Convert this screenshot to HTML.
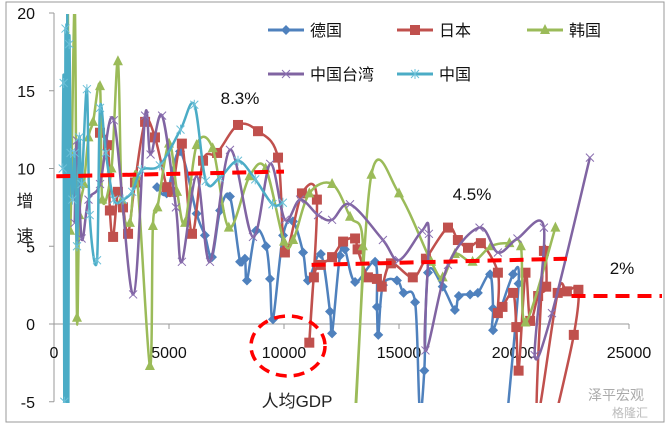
<!DOCTYPE html>
<html><head><meta charset="utf-8"><style>
html,body{margin:0;padding:0;background:#fff;width:667px;height:426px;overflow:hidden;}
svg{display:block;position:absolute;left:0;top:0;overflow:hidden;font-family:"Liberation Sans","Noto Sans CJK SC",sans-serif;}
</style></head><body>
<svg id="chart" width="667" height="426" viewBox="0 0 667 426">
<defs><clipPath id="plotclip"><rect x="54" y="14" width="613" height="389"/></clipPath></defs>
<rect x="6" y="2" width="658" height="420" fill="#fff" stroke="#999" stroke-width="1"/>
<g id="axes"></g>
<g id="series" clip-path="url(#plotclip)"></g>
<g id="annot"></g>
<g id="legend"></g>
<text x="25" y="207" font-size="17" text-anchor="middle" fill="#222">增</text>
<text x="25" y="242" font-size="17" text-anchor="middle" fill="#222">速</text>
<text x="297" y="407" font-size="17" text-anchor="middle" fill="#222">人均GDP</text>
<text x="588" y="400" font-size="14" fill="#aaa">泽平宏观</text>
<text x="612" y="417" font-size="12" fill="#bbb">格隆汇</text>
</svg>
<script>
const xTicks=[0,5000,10000,15000,20000,25000];
const yTicks=[-5,0,5,10,15,20];
const seriesNames=["德国","日本","韩国","中国台湾","中国"];
const germany=[[4480,8.8],[4900,8.4],[5480,11.1],[6200,7.1],[6560,5.7],[6870,4.3],[7220,7.3],[7650,8.2],[8090,4.0],[8300,4.2],[8390,2.8],[8780,6.0],[9220,5.0],[9390,2.9],[9520,0.3],[9960,5.7],[10390,6.6],[10830,4.6],[11040,2.8],[11600,4.5],[12000,0.8],[12090,-0.6],[12430,4.4],[12650,4.8],[13090,2.7],[13960,4.0],[14040,1.1],[14100,-0.7],[14300,2.5],[14910,2.8],[15200,2.0],[15700,1.4],[15900,-5.5],[16100,-3],[16260,3.3],[16900,2.4],[17430,0.9],[17600,1.8],[18090,1.9],[18430,2.0],[18960,3.2],[19090,1.0],[19090,-0.4],[19960,3.2],[20200,2.6],[19700,-6]];
const japan=[[2000,12.3],[2350,11.5],[2430,7.3],[2570,5.6],[2780,8.5],[3000,7.5],[3220,5.8],[3520,9.1],[3960,13.0],[4390,12.0],[4900,8.8],[5130,8.5],[5560,11.6],[6000,5.8],[6480,10.5],[7090,11.0],[8000,12.8],[8870,12.4],[9740,10.7],[10040,4.6],[10780,8.4],[11430,8.0],[11100,-1.2],[11300,3.0],[11600,3.8],[12090,4.3],[12570,5.3],[13090,5.5],[13200,4.8],[13650,3.0],[14040,2.9],[14250,2.4],[14650,3.9],[15600,3.0],[16170,4.2],[17130,6.2],[17560,5.4],[18000,4.9],[18560,5.2],[19300,3.3],[19300,0.7],[19500,1.1],[19960,2.0],[20100,-0.2],[20200,-3.0],[20500,3.3],[20700,0.2],[21050,1.8],[21400,2.4],[21300,4.7],[21000,-6],[21900,2.0],[22300,2.1],[22800,2.2],[22600,-0.7],[21800,-6]];
const korea=[[600,20.8],[700,6],[900,20.8],[1000,0.4],[1100,7],[1300,9],[1500,12],[1700,13],[2000,15.3],[2100,8],[2500,10],[2780,16.9],[2950,8],[3300,6.5],[3600,9.5],[4170,-2.7],[4300,6.3],[4500,7.5],[5000,11.6],[5350,8.5],[5700,6.5],[6200,11.5],[6900,11.3],[7600,6.2],[8500,9.5],[9200,10.0],[10000,5.3],[10400,5.4],[11100,8.4],[12090,9.0],[12870,6.9],[13430,5.0],[13100,-6],[13800,9.6],[15000,8.4],[16400,4.0],[16900,3.0],[17430,4.5],[18200,4.0],[19000,5.0],[19800,5.2],[20300,5.0],[20500,0.1],[21800,6.2]];
const taiwan=[[900,6.5],[1000,11.8],[1200,5.5],[1500,8],[2000,9],[2600,13.1],[3440,1.9],[3960,13.4],[4200,10.9],[4700,13.4],[5300,7.5],[5560,4.0],[6200,9.5],[6780,4.0],[7650,11.2],[8650,5.6],[9400,10.3],[10040,6.7],[10700,8.0],[11480,7.0],[12090,6.7],[12870,7.7],[14300,5.4],[15000,4.1],[16000,6.0],[16300,5.8],[16150,-1.7],[17130,3.8],[18500,6.2],[19300,4.6],[20150,5.5],[21300,6.2],[20900,-2],[21650,0.7],[23300,10.7]];
const china=[[380,10],[420,15.5],[450,-5],[500,19],[540,-6],[580,20.8],[620,-6],[660,18],[720,11],[800,8],[900,11],[1000,5],[1100,12],[1200,9],[1430,15.1],[1550,7],[1870,4.1],[2000,13.9],[2250,11],[2600,8],[3000,8.0],[3400,8.5],[3800,9.9],[4600,10.2],[5500,12.5],[6100,14.1],[6600,9.2],[7200,9.4],[8000,10.5],[8750,9.3],[9500,7.7],[9950,7.8]];
const avgLabels=["8.3%","4.5%","2%"];
const avgLines=[[[100,9.5],[10000,9.8]],[[11200,3.8],[22300,4.2]],[[22500,1.8],[26500,1.8]]];

const NS="http://www.w3.org/2000/svg";
function X(v){return 54+v*0.023;}
function Y(v){return 324-v*15.55;}
function mk(tag,attrs,parent){const e=document.createElementNS(NS,tag);for(const k in attrs)e.setAttribute(k,attrs[k]);parent.appendChild(e);return e;}
const axes=document.getElementById('axes');
let a=mk('line',{x1:54,y1:Y(20),x2:54,y2:Y(-5),stroke:'#999','stroke-width':1},axes);


a=mk('line',{x1:54,y1:Y(0),x2:X(25000),y2:Y(0),stroke:'#999','stroke-width':1},axes);


yTicks.forEach(t=>{
  mk('line',{x1:49,y1:Y(t),x2:54,y2:Y(t),stroke:'#999'},axes);
  const tx=mk('text',{x:35,y:Y(t)+6,'font-size':16,'text-anchor':'end',fill:'#111'},axes);
  tx.textContent=t;
  
  
});
xTicks.forEach(t=>{
  mk('line',{x1:X(t),y1:Y(0),x2:X(t),y2:Y(0)+5,stroke:'#999'},axes);
  const tx=mk('text',{x:X(t),y:358,'font-size':16,'text-anchor':'middle',fill:'#111'},axes);
  tx.textContent=t;
  
  
});
function smooth(pts){
  let d='M'+pts[0][0].toFixed(1)+','+pts[0][1].toFixed(1);
  for(let i=0;i<pts.length-1;i++){
    const p0=pts[i-1]||pts[i],p1=pts[i],p2=pts[i+1],p3=pts[i+2]||p2;
    const c1=[p1[0]+(p2[0]-p0[0])/6,Math.min(424,Math.max(1,p1[1]+(p2[1]-p0[1])/6))];
    const c2=[p2[0]-(p3[0]-p1[0])/6,Math.min(424,Math.max(1,p2[1]-(p3[1]-p1[1])/6))];
    d+='C'+c1.map(v=>v.toFixed(1)).join(',')+' '+c2.map(v=>v.toFixed(1)).join(',')+' '+p2[0].toFixed(1)+','+p2[1].toFixed(1);
  }
  return d;
}
const colors=["#4F81BD","#C0504D","#9BBB59","#8064A2","#4BACC6"];
const markers=["diamond","square","triangle","x","star"];
const keys=["germany","japan","korea","taiwan","china"];
function marker(type,x,y,c,g){
  let m;
  if(type==="diamond")m=mk('path',{d:`M${x},${y-5}L${x+5},${y}L${x},${y+5}L${x-5},${y}Z`,fill:c},g);
  else if(type==="square")m=mk('rect',{x:x-5,y:y-5,width:10,height:10,fill:c},g);
  else if(type==="triangle")m=mk('path',{d:`M${x},${y-6}L${x+5},${y+4}L${x-5},${y+4}Z`,fill:c},g);
  else if(type==="x")m=mk('path',{d:`M${x-4},${y-4}L${x+4},${y+4}M${x+4},${y-4}L${x-4},${y+4}`,stroke:c,'stroke-width':1,fill:'none'},g);
  else m=mk('path',{d:`M${x-4},${y-4}L${x+4},${y+4}M${x+4},${y-4}L${x-4},${y+4}M${x},${y-5}L${x},${y+5}`,stroke:c,'stroke-width':1,fill:'none'},g);
  return m;
}
const seriesLayer=document.getElementById('series');
[germany,japan,korea,taiwan,china].forEach((data,i)=>{
  const g=mk('g',{},seriesLayer);
  
  
  const pts=data.map(p=>[X(p[0]),Y(p[1])]);
  const path=mk('path',{d:smooth(pts),fill:'none',stroke:colors[i],'stroke-width':2.5},g);
  
  
  const mc=(i===3)?'#8a6fb0':(i===4?'#6cc0d8':colors[i]);
  data.forEach((d,j)=>{
    if(d[1]<-5||d[1]>20)return;
    const m=marker(markers[i],pts[j][0],pts[j][1],mc,g);
    
    
  });
});
const annot=document.getElementById('annot');
avgLines.forEach((l,i)=>{
  const ln=mk('line',{x1:X(l[0][0]),y1:Y(l[0][1]),x2:Math.min(X(l[1][0]),662),y2:Y(l[1][1]),stroke:'#FF0000','stroke-width':4,'stroke-dasharray':'14 8'},annot);
  
  
});
const labPos=[[240,104],[472,200],[622,274]];
avgLabels.forEach((t,i)=>{
  const tx=mk('text',{x:labPos[i][0],y:labPos[i][1],'font-size':17,'text-anchor':'middle',fill:'#111'},annot);
  tx.textContent=t;
  
  
});
const el=mk('ellipse',{cx:288,cy:346,rx:37,ry:30,fill:'none',stroke:'#FF0000','stroke-width':3.5,'stroke-dasharray':'11 7'},annot);


const legend=document.getElementById('legend');
const legPos=[[268,30],[397,30],[527,30],[268,74],[397,74]];
seriesNames.forEach((n,i)=>{
  const g=mk('g',{},legend);
  
  
  const [x,y]=legPos[i];
  mk('line',{x1:x,y1:y,x2:x+36,y2:y,stroke:colors[i],'stroke-width':3},g);
  marker(markers[i],x+18,y,i===3?'#8a6fb0':(i===4?'#6cc0d8':colors[i]),g);
  const tx=mk('text',{x:x+42,y:y+6,'font-size':16,fill:'#111'},g);
  tx.textContent=n;
});
</script>
</body></html>
